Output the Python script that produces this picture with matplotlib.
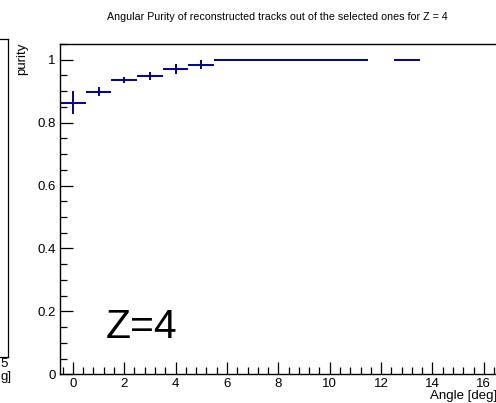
import matplotlib
matplotlib.use("Agg")
import matplotlib.pyplot as plt
from matplotlib.lines import Line2D
from matplotlib.ticker import MultipleLocator

plt.rcParams['font.family'] = ['Liberation Sans', 'DejaVu Sans']

# purity per angle bin (bin width 1 deg, centred on integers)
angle = [0, 1, 2, 3, 4, 5, 6, 7, 8, 9, 10, 11, 13]
purity = [0.864, 0.899, 0.936, 0.948, 0.972, 0.984, 1, 1, 1, 1, 1, 1, 1]
purity_err = [0.036, 0.013, 0.009, 0.013, 0.016, 0.015, 0, 0, 0, 0, 0, 0, 0]
bin_half = 0.5

W, H = 496, 403
fig = plt.figure(figsize=(W / 100, H / 100), dpi=100)

# main pad frame, right side runs past the picture edge
ax = fig.add_axes([60 / W, 28.7 / H, 462.4 / W, 330.3 / H])
ax.errorbar(angle, purity, xerr=bin_half, yerr=purity_err, fmt='none',
            ecolor='#000099', elinewidth=1.4, capsize=0)
ax.set_xlim(-0.5, 17.5)
ax.set_ylim(0, 1.05)

ax.xaxis.set_major_locator(MultipleLocator(2))
ax.xaxis.set_minor_locator(MultipleLocator(0.4))
ax.yaxis.set_minor_locator(MultipleLocator(0.05))
ax.set_yticks([0, 0.2, 0.4, 0.6, 0.8, 1.0])
ax.set_yticklabels(['0', '0.2', '0.4', '0.6', '0.8', '1'])
ax.tick_params(which='both', direction='in', labelsize=9.5, top=False, right=False)
ax.tick_params(which='major', length=9, width=0.9, pad=3)
ax.tick_params(which='minor', length=5, width=0.9)
for s in ax.spines.values():
    s.set_linewidth(1.0)

ax.text(1.27, 0.115, "Z=4", fontsize=29.5, color='black', va='baseline')

fig.text(277 / W, 1 - 17 / H, "Angular Purity of reconstructed tracks out of the selected ones for Z = 4",
         ha='center', va='center', fontsize=7.7)
fig.text(22 / W, 1 - 43 / H, "purity", rotation=90, ha='center', va='top', fontsize=9.5)
fig.text(497 / W, 1 - 402 / H, "Angle [deg]", ha='right', va='bottom', fontsize=9.5)

# edge of the neighbouring pad on the left
fig.add_artist(Line2D([8 / W, 8 / W], [1 - 39 / H, 1 - 357 / H], color='black', lw=0.9))
fig.add_artist(Line2D([0, 8 / W], [1 - 357 / H, 1 - 357 / H], color='black', lw=0.9))
fig.add_artist(Line2D([0, 8 / W], [1 - 39 / H, 1 - 39 / H], color='black', lw=0.9))
fig.text(0.5 / W, 1 - 364 / H, "5", ha='left', va='center', fontsize=9.5)
fig.text(0.5 / W, 1 - 383 / H, "g]", ha='left', va='bottom', fontsize=9.5)

fig.savefig("out.png", dpi=100)
